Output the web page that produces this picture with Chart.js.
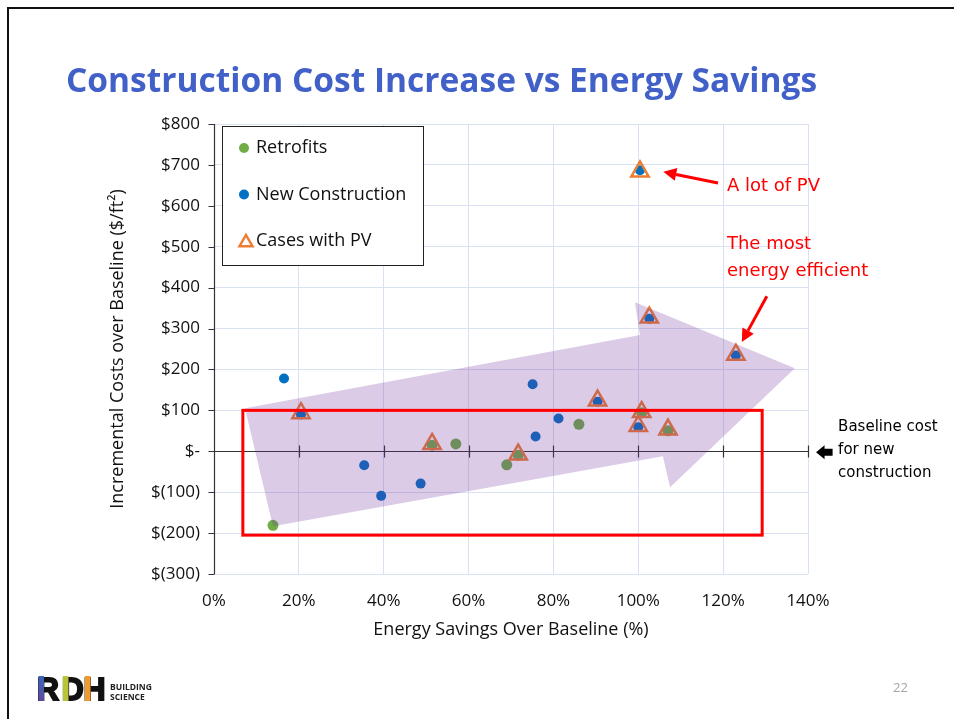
<!DOCTYPE html>
<html><head><meta charset="utf-8">
<script src="https://cdn.jsdelivr.net/npm/chart.js@4/dist/chart.umd.min.js"></script>
<style>
html,body{margin:0;padding:0;background:#fff;}
#wrap{position:relative;width:954px;height:719px;overflow:hidden;background:#fff;}
#frame{position:absolute;left:7px;top:7px;width:1000px;height:800px;border-top:2px solid #111;border-left:2px solid #111;}
canvas{position:absolute;left:0;top:0;}
</style></head><body>
<div id="wrap"><canvas id="c" width="954" height="719"></canvas><div id="frame"></div></div>
<script>
// ---- data ----
const slideTitle = 'Construction Cost Increase vs Energy Savings';
const seriesNames = ['Retrofits', 'New Construction', 'Cases with PV'];
const retrofitSavings = [13.9, 51.4, 57.0, 69.0, 71.7, 86.0, 100.8, 107.0];
const retrofitCost    = [-181, 15, 18, -33, -10, 66, 94, 50];
const newSavings = [16.5, 20.5, 35.4, 39.4, 48.7, 75.1, 75.8, 81.2, 90.4, 100.0, 100.4, 102.6, 123.0];
const newCost    = [178, 90, -34, -109, -79, 164, 36, 80, 121, 59, 687, 324, 234];
const pvSavings = [20.5, 51.4, 71.7, 90.4, 100.8, 100.0, 107.0, 100.4, 102.6, 123.0];
const pvCost    = [93, 18, -8, 124, 96, 62, 53, 684, 327, 236];
const xTickSuffix = '%';
const xAxisTitle = 'Energy Savings Over Baseline (%)';
const yAxisTitle = 'Incremental Costs over Baseline ($/ft²)';

function fmtCost(v){ if (v === 0) return '$-'; return v > 0 ? '$' + v : '$(' + Math.abs(v) + ')'; }
const pts = (xs, ys) => xs.map((x, i) => ({x, y: ys[i]}));

const FONT = "'Open Sans', 'DejaVu Sans', sans-serif";
const ANNO_FONT = "'DejaVu Sans', sans-serif";

// annotation shapes in data units (% savings, $/ft2)
const bigArrow = [[7.3,105],[100.4,284],[99.2,364],[136.9,203],[107.5,-88],[105.8,-12],[13.9,-183]];
const redBox = {x0:6.8, x1:129.2, y0:100, y1:-205};

function redArrow(ctx, x1, y1, x2, y2){
  const a = Math.atan2(y2 - y1, x2 - x1), L = 13, W = 6.5;
  const bx = x2 - L*Math.cos(a), by = y2 - L*Math.sin(a);
  ctx.strokeStyle = '#FF0000'; ctx.lineWidth = 3;
  ctx.beginPath(); ctx.moveTo(x1, y1); ctx.lineTo(bx, by); ctx.stroke();
  ctx.fillStyle = '#FF0000';
  ctx.beginPath(); ctx.moveTo(x2, y2);
  ctx.lineTo(bx + W*Math.sin(a), by - W*Math.cos(a));
  ctx.lineTo(bx - W*Math.sin(a), by + W*Math.cos(a));
  ctx.closePath(); ctx.fill();
}

const overlay = {
  id: 'overlay',
  beforeDatasetsDraw(chart){
    const {ctx, scales:{x, y}, chartArea:a} = chart;
    ctx.save();
    ctx.strokeStyle = '#333'; ctx.lineWidth = 1.2;
    const ax = Math.round(a.left) + 0.5;
    ctx.beginPath();
    ctx.moveTo(ax, a.top); ctx.lineTo(ax, a.bottom);
    y.ticks.forEach(t => { const py = Math.round(y.getPixelForValue(t.value)) + 0.5; ctx.moveTo(ax - 6, py); ctx.lineTo(ax, py); });
    const zy = Math.round(y.getPixelForValue(0)) + 0.5;
    ctx.moveTo(a.left, zy); ctx.lineTo(a.right, zy);
    x.ticks.forEach(t => { if (t.value === 0) return; const px = Math.round(x.getPixelForValue(t.value)) + 0.5; ctx.moveTo(px, zy - 6); ctx.lineTo(px, zy + 6); });
    ctx.stroke();
    ctx.restore();
  },
  afterDatasetsDraw(chart){
    const {ctx, scales:{x, y}, chartArea:a} = chart;
    const X = v => x.getPixelForValue(v), Y = v => y.getPixelForValue(v);
    ctx.save();
    // big translucent purple arrow
    ctx.beginPath();
    bigArrow.forEach((p, i) => i ? ctx.lineTo(X(p[0]), Y(p[1])) : ctx.moveTo(X(p[0]), Y(p[1])));
    ctx.closePath();
    ctx.fillStyle = 'rgba(112,48,160,0.25)';
    ctx.fill();
    // red box
    ctx.strokeStyle = '#FF0000'; ctx.lineWidth = 3;
    ctx.strokeRect(X(redBox.x0), Y(redBox.y0), X(redBox.x1) - X(redBox.x0), Y(redBox.y1) - Y(redBox.y0));
    // red callouts
    redArrow(ctx, X(118.8), Y(656), X(105.9), Y(683));
    redArrow(ctx, X(130.3), Y(379), X(124.4), Y(267));
    ctx.fillStyle = '#FF0000'; ctx.font = '18px ' + ANNO_FONT; ctx.textBaseline = 'middle'; ctx.textAlign = 'left';
    ctx.fillText('A lot of PV', X(120.9), Y(648));
    ctx.fillText('The most', X(120.9), Y(506));
    ctx.fillText('energy efficient', X(120.9), Y(440));
    // baseline note
    ctx.fillStyle = '#000'; ctx.font = '15px ' + ANNO_FONT;
    ctx.fillText('Baseline cost', X(147.1), Y(59));
    ctx.fillText('for new', X(147.1), Y(2));
    ctx.fillText('construction', X(147.1), Y(-54));
    const by = Y(0) + 1, tip = X(141.9), hb = X(143.9), tail = X(145.8);
    ctx.beginPath();
    ctx.moveTo(tip, by); ctx.lineTo(hb, by - 7); ctx.lineTo(hb, by - 3.5); ctx.lineTo(tail, by - 3.5);
    ctx.lineTo(tail, by + 3.5); ctx.lineTo(hb, by + 3.5); ctx.lineTo(hb, by + 7); ctx.closePath();
    ctx.fill();
    ctx.restore();
  },
  afterDraw(chart){
    const {ctx, chartArea:a} = chart;
    ctx.save();
    // legend box
    const lx = a.left + 8, ly = a.top + 2, lw = 201, lh = 139;
    ctx.fillStyle = '#fff'; ctx.fillRect(lx, ly, lw, lh);
    ctx.strokeStyle = '#222'; ctx.lineWidth = 1;
    ctx.strokeRect(Math.round(lx) + 0.5, Math.round(ly) + 0.5, lw, lh);
    ctx.font = '18px ' + FONT; ctx.textBaseline = 'middle'; ctx.textAlign = 'left';
    chart.data.datasets.forEach((ds, i) => {
      const cy = ly + 22 + i*46.5, cx = lx + 22;
      ctx.fillStyle = ds.backgroundColor; ctx.strokeStyle = ds.borderColor; ctx.lineWidth = ds.borderWidth;
      ctx.beginPath();
      if (ds.pointStyle === 'triangle') {
        const r = 7.5, tx = cx + 2, ty = cy + 1.5;
        ctx.moveTo(tx, ty - r); ctx.lineTo(tx + r*0.866, ty + r*0.5); ctx.lineTo(tx - r*0.866, ty + r*0.5); ctx.closePath();
        ctx.stroke();
      } else {
        ctx.arc(cx, cy, 5, 0, Math.PI*2); ctx.fill();
      }
      ctx.fillStyle = '#111';
      ctx.fillText(ds.label, lx + 34, cy);
    });
    // slide title
    ctx.fillStyle = '#4261C8';
    let fs = 32; ctx.font = 'bold ' + fs + 'px ' + FONT;
    const w = ctx.measureText(slideTitle).width; fs = fs * 750 / w;
    ctx.font = 'bold ' + fs.toFixed(1) + 'px ' + FONT; ctx.textBaseline = 'alphabetic';
    ctx.fillText(slideTitle, 66, 92);
    // page number
    ctx.fillStyle = '#A6A6A6'; ctx.font = '13px ' + FONT; ctx.textBaseline = 'middle';
    ctx.fillText('22', 893, 688);
    // logo
    ctx.save();
    ctx.translate(37, 701); ctx.scale(0.95, 1);
    ctx.fillStyle = '#111'; ctx.strokeStyle = '#111'; ctx.lineWidth = 2; ctx.lineJoin = 'miter';
    ctx.font = 'bold 32px "Liberation Sans", sans-serif'; ctx.textBaseline = 'alphabetic';
    [['R', 0], ['D', 26], ['H', 49]].forEach(([t, dx]) => { ctx.fillText(t, dx, -1); ctx.strokeText(t, dx, -1); });
    ctx.restore();
    const g = ctx.createLinearGradient(0, 677, 0, 701); g.addColorStop(0, '#3b63b5'); g.addColorStop(1, '#5b4a9e');
    ctx.fillStyle = g; ctx.fillRect(38.5, 676, 5.5, 25);
    ctx.fillStyle = '#B8C43A'; ctx.fillRect(63, 676, 5.5, 25);
    ctx.fillStyle = '#F29A2E'; ctx.fillRect(85, 676, 5.5, 25);
    ctx.fillStyle = '#222'; ctx.font = 'bold 8.5px ' + FONT; ctx.textBaseline = 'middle';
    ctx.fillText('BUILDING', 110, 687.5); ctx.fillText('SCIENCE', 110, 697.5);
    ctx.restore();
  }
};

new Chart(document.getElementById('c'), {
  type: 'scatter',
  data: { datasets: [
    { label: seriesNames[0], data: pts(retrofitSavings, retrofitCost), pointStyle: 'circle', pointRadius: 5.5, pointHoverRadius: 5.5,
      backgroundColor: '#70AD47', borderColor: '#70AD47', borderWidth: 0, order: 3 },
    { label: seriesNames[1], data: pts(newSavings, newCost), pointStyle: 'circle', pointRadius: 5, pointHoverRadius: 5,
      backgroundColor: '#0070C0', borderColor: '#0070C0', borderWidth: 0, order: 2 },
    { label: seriesNames[2], data: pts(pvSavings, pvCost), pointStyle: 'triangle', pointRadius: 10, pointHoverRadius: 10,
      backgroundColor: 'rgba(0,0,0,0)', borderColor: '#ED7D31', borderWidth: 2.5, order: 1 }
  ]},
  options: {
    responsive: false, animation: false, devicePixelRatio: 1,
    layout: { padding: { left: 0, right: 146, top: 124, bottom: 0 } },
    plugins: { legend: { display: false }, tooltip: { enabled: false } },
    scales: {
      x: { type: 'linear', min: 0, max: 140,
        ticks: { stepSize: 20, callback: v => v + xTickSuffix, font: { family: FONT, size: 17 }, color: '#111', padding: 17, maxRotation: 0 },
        grid: { color: '#D9E1F2', drawTicks: false }, border: { display: false },
        title: { display: true, text: xAxisTitle, font: { family: FONT, size: 18 }, color: '#111', padding: { top: 0, bottom: 78 } },
        afterFit(s){ s.height = 145; } },
      y: { type: 'linear', min: -300, max: 800,
        ticks: { stepSize: 100, callback: fmtCost, font: { family: FONT, size: 17 }, color: '#111', padding: 14 },
        grid: { color: '#D9E1F2', drawTicks: false }, border: { display: false },
        title: { display: true, text: yAxisTitle, font: { family: FONT, size: 18 }, color: '#111', padding: { top: 107, bottom: 0 } },
        afterFit(s){ s.width = 214; } }
    }
  },
  plugins: [overlay]
});
</script></body></html>
